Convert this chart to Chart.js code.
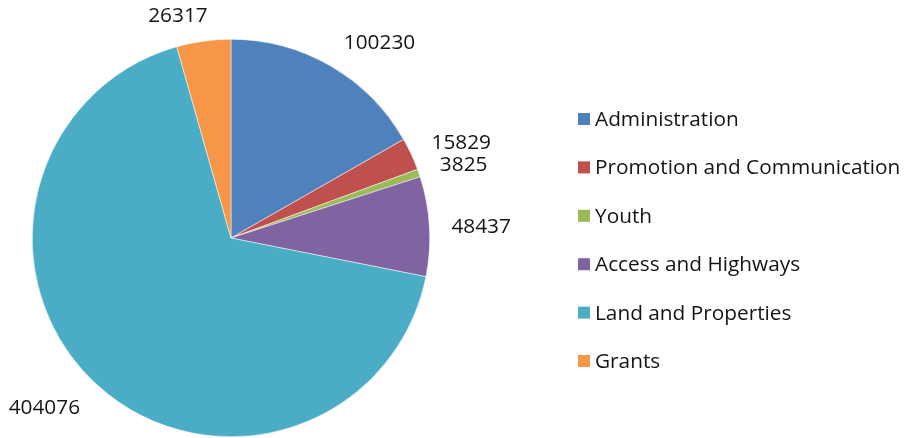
<!DOCTYPE html>
<html><head><meta charset="utf-8">
<script src="https://cdn.jsdelivr.net/npm/chart.js@4"></script>
<style>html,body{margin:0;padding:0;background:#fff;}#wrap{width:914px;height:438px;}</style>
</head><body><div id="wrap"><canvas id="c" width="914" height="438"></canvas></div>
<script>
const categories = ["Administration","Promotion and Communication","Youth","Access and Highways","Land and Properties","Grants"];
const values = [100230, 15829, 3825, 48437, 404076, 26317];
const colors = ["#4F81BD","#C0504D","#9BBB59","#8064A2","#4BACC6","#F79646"];
const FONT = "'Open Sans', Lato, sans-serif";
const FSIZE = 20.8;

const labelPlugin = {
  id: 'pieLabels',
  afterDatasetsDraw(chart) {
    const ctx = chart.ctx;
    const meta = chart.getDatasetMeta(0);
    ctx.save();
    ctx.font = FSIZE + "px " + FONT;
    ctx.fillStyle = "#141414";
    ctx.textAlign = "center";
    ctx.textBaseline = "middle";
    const boxes = [];
    const h = 19, padX = 4;
    meta.data.forEach((arc, i) => {
      const p = arc.getProps(['x','y','startAngle','endAngle','outerRadius'], true);
      const mid = (p.startAngle + p.endAngle) / 2;
      const rr = p.outerRadius + 18;
      const c = Math.cos(mid), s = Math.sin(mid);
      const ax = p.x + c * rr;
      const ay = p.y + s * rr;
      const txt = String(chart.data.datasets[0].data[i]);
      const w = ctx.measureText(txt).width;
      const fx = Math.max(-1, Math.min(1, c / 0.2));
      const fy = Math.max(-1, Math.min(1, s / 0.8));
      let cx = ax + fx * (w / 2 + padX);
      let cy = ay + fy * (h / 2) + 2;
      boxes.forEach(b => {
        if (Math.abs(b.cx - cx) < (b.w + w) / 2 && Math.abs(b.cy - cy) < h) {
          cy = b.cy + (cy >= b.cy ? h : -h);
        }
      });
      boxes.push({cx, cy, w});
      ctx.fillText(txt, cx, cy);
    });
    ctx.restore();
  }
};

const legendPlugin = {
  id: 'customLegend',
  afterDraw(chart) {
    const ctx = chart.ctx;
    ctx.save();
    ctx.font = FSIZE + "px " + FONT;
    ctx.textBaseline = "middle";
    ctx.textAlign = "left";
    const x0 = 578, y0 = 119, step = 48.4, sq = 12;
    chart.data.labels.forEach((lab, i) => {
      const y = y0 + i * step;
      ctx.fillStyle = chart.data.datasets[0].backgroundColor[i];
      ctx.fillRect(x0, y - sq / 2, sq, sq);
      ctx.fillStyle = "#141414";
      ctx.fillText(lab, x0 + 17, y + 1);
    });
    ctx.restore();
  }
};

new Chart(document.getElementById('c'), {
  type: 'pie',
  data: {
    labels: categories,
    datasets: [{ data: values, backgroundColor: colors, borderWidth: 0.5, borderColor: "#ffffff" }]
  },
  options: {
    responsive: false,
    animation: false,
    layout: { padding: { top: 39, bottom: 1, left: 32, right: 484 } },
    plugins: { legend: { display: false }, tooltip: { enabled: false } }
  },
  plugins: [labelPlugin, legendPlugin]
});
</script>
</body></html>
